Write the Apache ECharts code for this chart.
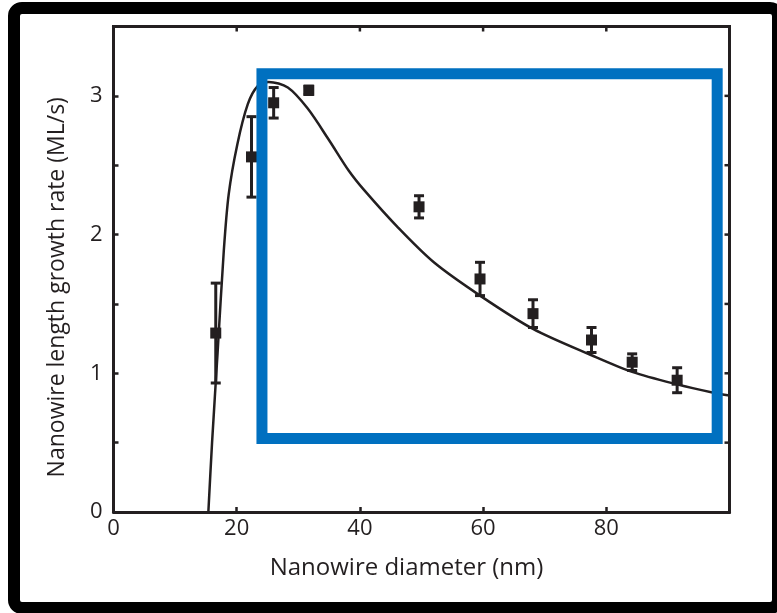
<!DOCTYPE html>
<html>
<head>
<meta charset="utf-8">
<script src="https://cdn.jsdelivr.net/npm/echarts@6/dist/echarts.min.js"></script>
<style>
  html, body { margin: 0; padding: 0; background: #fff; }
  #chart { width: 777px; height: 613px; }
</style>
</head>
<body>
<div id="chart"></div>
<script>
// measured points (diameter nm, rate ML/s, error bar half-height)
var diam = [16.6, 22.4, 26.0, 31.7, 49.6, 59.5, 68.1, 77.6, 84.2, 91.5];
var rate = [1.29, 2.56, 2.95, 3.04, 2.20, 1.68, 1.43, 1.24, 1.08, 0.95];
var errs = [0.36, 0.29, 0.11, 0.03, 0.08, 0.12, 0.10, 0.09, 0.06, 0.09];

// fitted curve
var fitX = [15.4, 16.0, 16.9, 17.9, 18.7, 20.1, 21.8, 23.4, 25.2, 28.3, 31.5, 35.0, 38.2, 40.7, 46.2, 52.0, 59.5, 68.1, 77.6, 84.2, 91.5, 97.4, 100];
var fitY = [0, 0.50, 1.15, 1.88, 2.29, 2.65, 2.94, 3.07, 3.10, 3.06, 2.91, 2.68, 2.46, 2.32, 2.05, 1.80, 1.56, 1.32, 1.13, 1.01, 0.92, 0.86, 0.84];

// mirror ticks on the top and right frame edges
var topTicks = [20, 40, 60, 80];
var rightTicks = [0.5, 1, 1.5, 2, 2.5, 3];

// highlight box corners [x1, y1, x2, y2]
var boxCorners = [24.1, 3.16, 98.0, 0.53];

var ink = '#231f20';
var font = 'Open Sans';
var xMax = 100, yMax = 3.5;

var chart = echarts.init(document.getElementById('chart'));

var points = diam.map(function (d, i) { return [d, rate[i], errs[i]]; });
var fit = fitX.map(function (x, i) { return [x, fitY[i]]; });
var frameEdge = [[0, yMax], [xMax, yMax], [xMax, 0]];
var topTickPts = topTicks.map(function (t) { return [t, yMax]; });
var rightTickPts = rightTicks.map(function (t) { return [xMax, t]; });

function axisLine() { return { show: true, onZero: false, lineStyle: { color: ink, width: 3 } }; }
function tick() { return { show: true, inside: true, length: 5, lineStyle: { color: ink, width: 2.5 } }; }

chart.setOption({
  animation: false,
  grid: { left: 113.5, right: 47.5, top: 26.5, bottom: 101 },
  graphic: [{
    type: 'rect',
    shape: { x: 14, y: 8, width: 764, height: 600, r: 8 },
    style: { fill: 'none', stroke: '#000', lineWidth: 12 },
    z: 100
  }],
  xAxis: [{
    type: 'value', min: 0, max: xMax, interval: 20,
    axisLine: axisLine(), axisTick: tick(), splitLine: { show: false },
    axisLabel: {
      color: ink, fontFamily: font, fontSize: 22, margin: 6,
      formatter: function (v) { return v === 100 ? '' : String(v); }
    },
    name: 'Nanowire diameter (nm)', nameLocation: 'middle', nameGap: 44,
    nameTextStyle: { color: ink, fontFamily: font, fontSize: 24, padding: [0, 30, 0, 0] }
  }],
  yAxis: [{
    type: 'value', min: 0, max: yMax, interval: 0.5,
    axisLine: axisLine(), axisTick: tick(), splitLine: { show: false },
    axisLabel: {
      color: ink, fontFamily: font, fontSize: 22, margin: 11,
      formatter: function (v) { return v % 1 === 0 ? String(v) : ''; }
    },
    name: 'Nanowire length growth rate (ML/s)', nameLocation: 'middle', nameGap: 45,
    nameTextStyle: { color: ink, fontFamily: font, fontSize: 23, padding: [0, 36, 0, 0] }
  }],
  series: [
    {
      // top and right edges of the plot frame
      name: 'frame',
      type: 'line',
      data: frameEdge,
      clip: false,
      silent: true,
      showSymbol: false,
      lineStyle: { color: ink, width: 3, cap: 'square', join: 'miter' },
      z: 6
    },
    {
      name: 'topTicks',
      type: 'scatter',
      data: topTickPts,
      clip: false,
      silent: true,
      symbol: 'rect',
      symbolSize: [2.5, 5],
      symbolOffset: [0, 2.5],
      itemStyle: { color: ink, opacity: 1 },
      z: 6
    },
    {
      name: 'rightTicks',
      type: 'scatter',
      data: rightTickPts,
      clip: false,
      silent: true,
      symbol: 'rect',
      symbolSize: [5, 2.5],
      symbolOffset: [-2.5, 0],
      itemStyle: { color: ink, opacity: 1 },
      z: 6
    },
    {
      name: 'fit',
      type: 'line',
      data: fit,
      smooth: 0.3,
      showSymbol: false,
      lineStyle: { color: ink, width: 2.5 },
      z: 2
    },
    {
      name: 'errors',
      type: 'custom',
      data: points,
      renderItem: function (params, api) {
        var x = api.value(0), y = api.value(1), e = api.value(2);
        var top = api.coord([x, y + e]);
        var bot = api.coord([x, y - e]);
        var cap = 5;
        var st = { stroke: ink, lineWidth: 3 };
        return {
          type: 'group',
          children: [
            { type: 'line', shape: { x1: top[0], y1: top[1], x2: bot[0], y2: bot[1] }, style: st },
            { type: 'line', shape: { x1: top[0] - cap, y1: top[1], x2: top[0] + cap, y2: top[1] }, style: st },
            { type: 'line', shape: { x1: bot[0] - cap, y1: bot[1], x2: bot[0] + cap, y2: bot[1] }, style: st }
          ]
        };
      },
      z: 3
    },
    {
      name: 'rate',
      type: 'scatter',
      data: points,
      symbol: 'rect',
      symbolSize: 11,
      itemStyle: { color: ink, opacity: 1 },
      z: 4
    },
    {
      name: 'box',
      type: 'custom',
      data: [boxCorners],
      renderItem: function (params, api) {
        var p1 = api.coord([api.value(0), api.value(1)]);
        var p2 = api.coord([api.value(2), api.value(3)]);
        return {
          type: 'rect',
          shape: { x: p1[0], y: p1[1], width: p2[0] - p1[0], height: p2[1] - p1[1] },
          style: { fill: 'none', stroke: '#0070c0', lineWidth: 11 }
        };
      },
      z: 5
    }
  ]
});
</script>
</body>
</html>
